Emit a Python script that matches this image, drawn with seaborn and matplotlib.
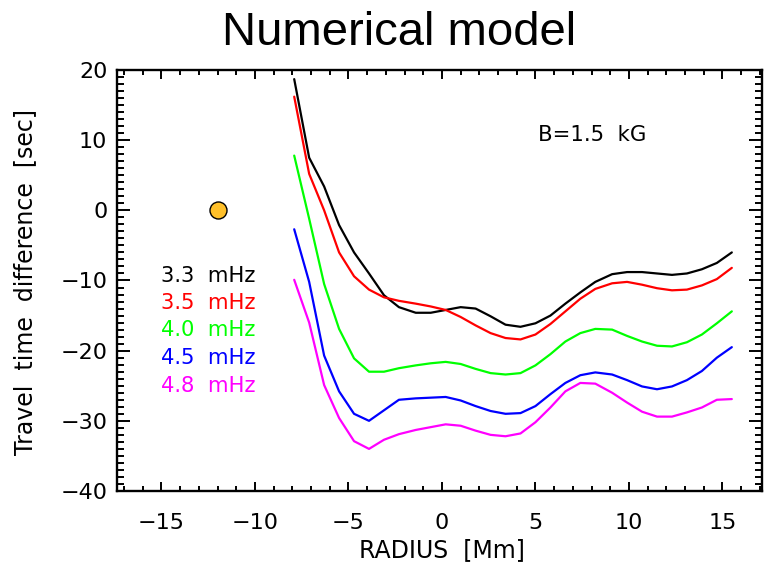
import numpy as np
import pandas as pd
import matplotlib
matplotlib.use("Agg")
import matplotlib.pyplot as plt
from matplotlib.ticker import MultipleLocator
import seaborn as sns

# Radial grid of the model output [Mm]
radius = [-7.9, -7.1, -6.3, -5.5, -4.7, -3.9, -3.1, -2.3, -1.4, -0.6,
          0.2, 1.0, 1.8, 2.6, 3.4, 4.2, 5.0, 5.8, 6.6, 7.4,
          8.2, 9.1, 9.9, 10.7, 11.5, 12.3, 13.1, 13.9, 14.7, 15.5]

# Travel time differences [sec] for each frequency
dt_33 = [18.7, 7.5, 3.4, -2.1, -6.0, -9.0, -12.1, -13.8, -14.6, -14.6,
         -14.2, -13.8, -14.0, -15.1, -16.3, -16.6, -16.1, -15.0, -13.3, -11.7,
         -10.2, -9.1, -8.8, -8.8, -9.0, -9.2, -9.0, -8.4, -7.5, -6.0]
dt_35 = [16.2, 5.2, 0.0, -6.0, -9.4, -11.3, -12.4, -12.9, -13.3, -13.7,
         -14.2, -15.2, -16.4, -17.5, -18.2, -18.4, -17.7, -16.2, -14.4, -12.6,
         -11.2, -10.4, -10.2, -10.6, -11.1, -11.4, -11.3, -10.7, -9.8, -8.2]
dt_40 = [7.8, -1.2, -10.5, -16.9, -21.1, -23.0, -23.0, -22.5, -22.1, -21.8,
         -21.6, -21.9, -22.6, -23.2, -23.4, -23.2, -22.1, -20.5, -18.7, -17.5,
         -16.9, -17.0, -17.9, -18.7, -19.3, -19.4, -18.8, -17.7, -16.1, -14.4]
dt_45 = [-2.7, -10.2, -20.7, -25.8, -29.0, -30.0, -28.5, -27.0, -26.8, -26.7,
         -26.6, -27.1, -27.9, -28.6, -29.0, -28.9, -27.9, -26.2, -24.6, -23.5,
         -23.1, -23.4, -24.2, -25.1, -25.5, -25.1, -24.2, -22.9, -21.0, -19.5]
dt_48 = [-9.9, -16.0, -24.9, -29.6, -32.9, -34.0, -32.7, -31.9, -31.3, -30.9,
         -30.5, -30.7, -31.4, -32.0, -32.2, -31.8, -30.2, -28.1, -25.8, -24.6,
         -24.7, -26.0, -27.4, -28.7, -29.4, -29.4, -28.8, -28.1, -27.0, -26.9]

freqs = ["3.3", "3.5", "4.0", "4.5", "4.8"]
series = [dt_33, dt_35, dt_40, dt_45, dt_48]
line_colors = ["#000000", "#ff0000", "#00ff00", "#0000ff", "#ff00ff"]

# Reference point
ref_x = [-12.0]
ref_y = [0.0]

rows = []
for f, vals in zip(freqs, series):
    for r, v in zip(radius, vals):
        rows.append({"radius": r, "dt": v, "freq": f})
df = pd.DataFrame(rows)

sns.set_theme(style="ticks")
plt.rcParams["font.family"] = ["DejaVu Sans"]
plt.rcParams["axes.unicode_minus"] = True

fig = plt.figure(figsize=(7.78, 5.69), dpi=100)
ax = fig.add_axes([0.1510, 0.1371, 0.8281, 0.7399])

sns.lineplot(data=df, x="radius", y="dt", hue="freq", hue_order=freqs,
             palette=dict(zip(freqs, line_colors)), estimator=None, sort=False,
             linewidth=1.6, legend=False, ax=ax)

ax.scatter(ref_x, ref_y, s=150, color="#ffc02a", edgecolor="black",
           linewidth=1.0, zorder=5)

ax.set_xlim(-17.35, 17.1)
ax.set_ylim(-40, 20)
ax.xaxis.set_major_locator(MultipleLocator(5))
ax.xaxis.set_minor_locator(MultipleLocator(1))
ax.yaxis.set_major_locator(MultipleLocator(10))
ax.yaxis.set_minor_locator(MultipleLocator(1))

for s in ax.spines.values():
    s.set_linewidth(1.7)
    s.set_color("black")

ax.tick_params(which="both", direction="in", top=True, right=True,
               width=1.4, color="black", labelsize=16, labelcolor="black")
ax.tick_params(axis="x", which="major", length=6.5, pad=15.5)
ax.tick_params(axis="x", which="minor", length=3.6)
ax.tick_params(axis="y", which="major", length=9.4, pad=7.3)
ax.tick_params(axis="y", which="minor", length=5.0)

fig.canvas.draw()
ylabels = ax.get_yticklabels()
ylabels[0].set_va("bottom")
ylabels[-1].set_va("top")

ax.set_xlabel("RADIUS  [Mm]", fontsize=17, color="black")
ax.xaxis.set_label_coords(0.503, -0.156)
ax.xaxis.label.set_va("baseline")
ax.set_ylabel("Travel  time  difference  [sec]", fontsize=17, color="black")
ax.yaxis.set_label_coords(-0.1332, 0.4964)
ax.yaxis.label.set_va("baseline")

# Frequency key
key_y = [-9.3, -13.2, -17.1, -21.1, -25.0]
for f, c, yk in zip(freqs, line_colors, key_y):
    ax.text(-15.0, yk, f"{f}  mHz", color=c, fontsize=15.2,
            ha="left", va="center")

ax.text(5.15, 10.8, "B=1.5  kG", color="black", fontsize=15.3,
        ha="left", va="center")

fig.text(0.513, 1 - 45 / 569, "Numerical model", fontsize=34,
         family=["Liberation Sans"], ha="center", va="baseline", color="black")

fig.savefig("out.png", dpi=100)
